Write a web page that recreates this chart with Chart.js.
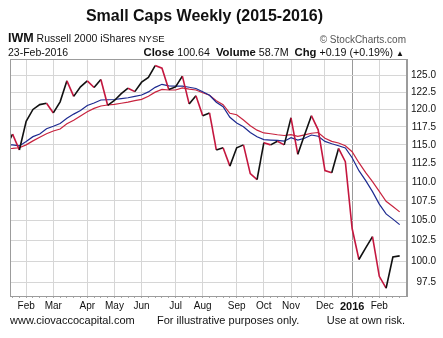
<!DOCTYPE html>
<html>
<head>
<meta charset="utf-8">
<script src="https://cdn.jsdelivr.net/npm/chart.js@4.4.1/dist/chart.umd.min.js"></script>
<style>
  body { margin: 0; background: #fff; }
  #wrap { position: relative; width: 443px; height: 338px; font-family: 'Liberation Sans', Arial, sans-serif; color: #111; }
  #wrap div { position: absolute; white-space: nowrap; }
  .b { font-weight: bold; }
</style>
</head>
<body>
<div id="wrap">
  <canvas id="chart" width="443" height="338"></canvas>
  <div class="b" style="left:0;width:409px;text-align:center;top:8px;font-size:16px;line-height:16px;">Small Caps Weekly (2015-2016)</div>
  <div style="left:8px;top:32px;font-size:10.5px;line-height:13px;"><span class="b" style="font-size:12.5px;">IWM</span> Russell 2000 iShares <span style="font-size:9.5px;">NYSE</span></div>
  <div style="right:37px;top:33px;font-size:10px;line-height:13px;color:#555;">© StockCharts.com</div>
  <div style="left:8px;top:46px;font-size:10.5px;line-height:12px;">23-Feb-2016</div>
  <div style="right:39px;top:46px;font-size:10.7px;line-height:12px;"><span class="b" style="font-size:11.3px;">Close</span> 100.64 &nbsp;<span class="b" style="font-size:11.3px;">Volume</span> 58.7M &nbsp;<span class="b" style="font-size:11.3px;">Chg</span> +0.19 (+0.19%) <span style="font-size:8px;">▲</span></div>
  <div style="left:10px;top:315px;font-size:11px;line-height:11px;">www.ciovaccocapital.com</div>
  <div style="left:157px;top:315px;font-size:11px;line-height:11px;">For illustrative purposes only.</div>
  <div style="right:38px;top:315px;font-size:11px;line-height:11px;">Use at own risk.</div>
</div>
<script>
// ── Weekly closes, week index -1 .. 57 (last = 23-Feb-2016) ──
const closes = [114.6, 116.5, 114.3, 118.3, 120.0, 120.7, 120.9, 119.5, 121.1, 124.2,
  121.9, 123.3, 124.2, 123.2, 124.4, 120.6, 121.3, 122.3, 123.1, 122.6,
  124.0, 124.7, 126.5, 126.1, 122.9, 123.3, 124.9, 120.8, 122.0, 119.1,
  119.5, 114.3, 114.6, 112.1, 114.6, 115.0, 111.1, 110.3, 115.3, 115.0,
  115.5, 115.0, 118.8, 113.7, 116.4, 119.1, 117.1, 111.5, 111.2, 114.5,
  112.7, 104.0, 100.2, 101.6, 103.0, 98.2, 96.8, 100.5, 100.64];

// ── Moving averages (blue = fast, red = slow) ──
const maFast = [115.0, 115.0, 114.85, 115.47, 116.14, 116.5, 117.25, 117.6, 117.99, 118.74,
  119.33, 119.84, 120.57, 120.93, 121.37, 121.41, 121.44, 121.56, 121.7, 121.9,
  122.1, 122.56, 123.23, 123.68, 123.46, 123.42, 123.42, 123.24, 123.06, 122.57,
  122.06, 121.04, 120.39, 118.88, 118.07, 117.53, 116.73, 116.13, 115.72, 115.66,
  115.62, 115.51, 115.99, 115.65, 115.92, 116.37, 116.2, 115.48, 115.16, 114.88,
  114.57, 113.23, 111.49, 110.16, 108.72, 107.1, 105.84, 105.18, 104.49];

const maSlow = [114.47, 114.52, 114.6, 115.0, 115.55, 116.06, 116.55, 116.94, 117.22, 117.95,
  118.46, 119.06, 119.67, 120.15, 120.5, 120.64, 120.74, 120.9, 121.06, 121.27,
  121.46, 121.93, 122.52, 122.92, 122.84, 122.84, 123.14, 122.96, 122.84, 122.43,
  122.06, 121.27, 120.68, 119.45, 119.24, 118.49, 117.68, 117.05, 116.66, 116.55,
  116.41, 116.3, 116.41, 116.17, 116.38, 116.62, 116.72, 115.92, 115.48, 115.26,
  114.88, 114.06, 112.56, 111.22, 110.03, 108.76, 107.46, 106.78, 106.1];

const firstWeek = -1;
const monthTicks  = [2, 6, 11, 15, 19, 24, 28, 33, 37, 41, 46, 50, 54];
const monthLabels = ['Feb', 'Mar', 'Apr', 'May', 'Jun', 'Jul', 'Aug', 'Sep', 'Oct', 'Nov', 'Dec', '2016', 'Feb'];
const priceTicks  = [97.5, 100, 102.5, 105, 107.5, 110, 112.5, 115, 117.5, 120, 122.5, 125];

const UP    = '#111111';
const DOWN  = '#c4173f';
const BLUE  = '#1d2a90';
const RED   = '#c8243f';
const GRID  = '#d6d6d6';
const FRAME = '#9c9c9c';

const toPts = arr => arr.map((v, i) => ({ x: i + firstWeek, y: v }));

// weekly tick marks under the axis, labels only at month starts
const weekTicks = [];
for (let w = 0; w < closes.length + firstWeek; w++) weekTicks.push(w);
const monthOf = v => monthTicks.indexOf(v);

// ── Frame around the plot ──
const frame = {
  id: 'frame',
  afterDatasetsDraw(chart) {
    const a = chart.chartArea, c = chart.ctx;
    c.save();
    c.strokeStyle = FRAME;
    c.lineWidth = 1;
    c.strokeRect(a.left + 0.5, a.top + 0.5, a.right - a.left - 1, a.bottom - a.top);
    c.restore();
  }
};

new Chart(document.getElementById('chart'), {
  type: 'line',
  data: {
    datasets: [
      {
        label: 'IWM',
        data: toPts(closes),
        borderColor: UP,
        borderWidth: 1.6,
        pointRadius: 0,
        segment: { borderColor: ctx => ctx.p1.parsed.y < ctx.p0.parsed.y ? DOWN : UP }
      },
      { label: 'MA fast', data: toPts(maFast), borderColor: BLUE, borderWidth: 1.2, pointRadius: 0 },
      { label: 'MA slow', data: toPts(maSlow), borderColor: RED, borderWidth: 1.2, pointRadius: 0 }
    ]
  },
  options: {
    responsive: false,
    animation: false,
    devicePixelRatio: 1,
    layout: { padding: { top: 59, left: 10, right: 7, bottom: 0 } },
    plugins: { legend: { display: false }, tooltip: { enabled: false } },
    scales: {
      x: {
        type: 'linear',
        min: -0.38,
        max: 58.08,
        afterBuildTicks: s => { s.ticks = weekTicks.map(v => ({ value: v })); },
        afterFit: s => { s.height = 42; },
        grid: {
          color: ctx => {
            const k = ctx.tick ? monthOf(ctx.tick.value) : -1;
            if (k < 0) return 'rgba(0,0,0,0)';
            return monthLabels[k] === '2016' ? '#9a9a9a' : GRID;
          },
          tickColor: '#a8a8a8',
          tickLength: 2,
          drawTicks: true
        },
        border: { color: FRAME },
        ticks: {
          autoSkip: false,
          maxRotation: 0,
          padding: 2,
          color: '#111',
          font: ctx => {
            const yr = ctx.tick && monthLabels[monthOf(ctx.tick.value)] === '2016';
            return { family: "'Liberation Sans', Arial, sans-serif", size: yr ? 11 : 10, weight: yr ? 'bold' : 'normal' };
          },
          callback: v => { const k = monthOf(v); return k < 0 ? '' : monthLabels[k]; }
        }
      },
      y: {
        type: 'logarithmic',
        position: 'right',
        min: 95.9,
        max: 127.5,
        afterBuildTicks: s => { s.ticks = priceTicks.map(v => ({ value: v })); },
        afterFit: s => { s.width = 29; },
        grid: { color: GRID, drawTicks: false },
        border: { color: FRAME },
        ticks: {
          crossAlign: 'far',
          padding: 3,
          color: '#111',
          font: { family: "'Liberation Sans', Arial, sans-serif", size: 10 },
          callback: v => Number(v).toFixed(1)
        }
      }
    }
  },
  plugins: [frame]
});
</script>
</body>
</html>
